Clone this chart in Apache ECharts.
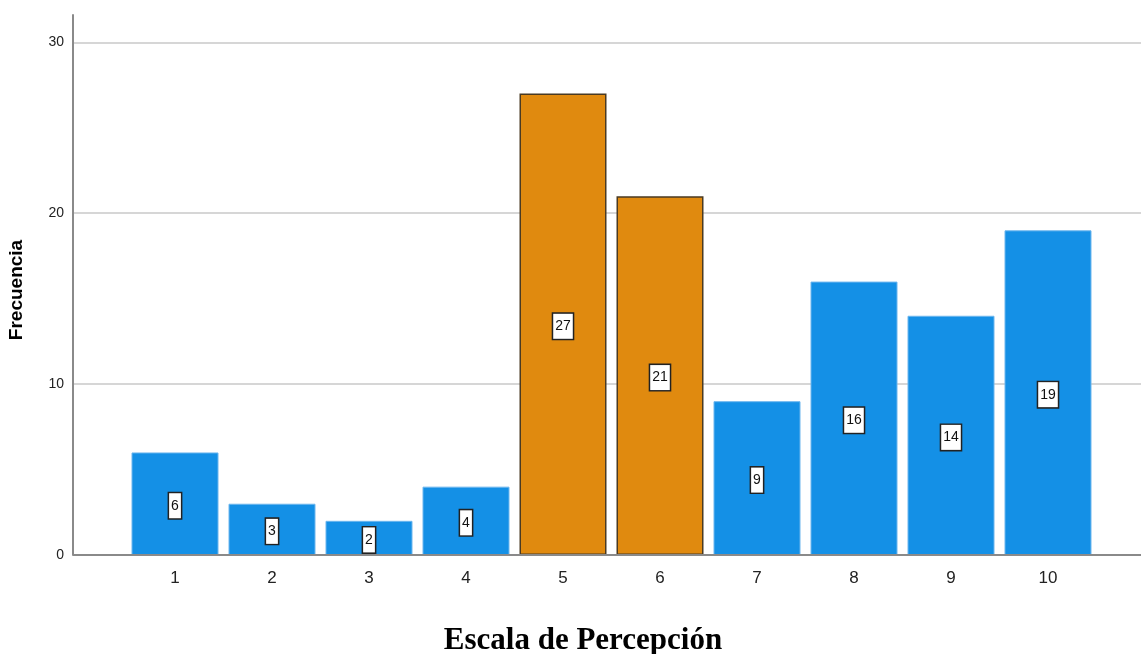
<!DOCTYPE html>
<html><head><meta charset="utf-8">
<script src="https://cdn.jsdelivr.net/npm/echarts@6/dist/echarts.min.js"></script>
<style>html,body{margin:0;padding:0;background:#fff}#c{width:1141px;height:654px}</style>
</head><body><div id="c"></div>
<script>
const categories = ['1','2','3','4','5','6','7','8','9','10'];
const frequencies = [6, 3, 2, 4, 27, 21, 9, 16, 14, 19];
const highlighted = ['5','6'];
const yTicks = [0, 10, 20, 30];

const blue = '#1490e6', orange = '#e08a0f';
const chart = echarts.init(document.getElementById('c'), null, {renderer:'canvas'});
const yMax = 31.6;
chart.setOption({
  animation:false,
  backgroundColor:'#fff',
  grid:[
    {left:73, right:0, top:15, bottom:99},
    {left:126.5, right:44.5, top:15, bottom:99}
  ],
  xAxis:[
    {gridIndex:0, type:'value', min:0, max:1, show:false},
    {gridIndex:1, type:'category', data:categories,
     axisLine:{show:false}, axisTick:{show:false},
     axisLabel:{fontSize:17, color:'#222', fontFamily:'Arial', margin:15}}
  ],
  yAxis:[
    {gridIndex:0, type:'value', min:0, max:yMax, interval:10,
     axisLine:{show:true, lineStyle:{color:'#8a8a8a', width:2}},
     axisTick:{show:false},
     axisLabel:{fontSize:14, color:'#222', fontFamily:'Arial', margin:9,
       showMaxLabel:false,
       formatter:v=>yTicks.includes(v)?String(v):''},
     splitLine:{show:true, showMaxLine:false, lineStyle:{color:'#d6d6d6', width:2}}},
    {gridIndex:1, type:'value', min:0, max:yMax, show:false}
  ],
  series:[
    {type:'line', xAxisIndex:0, yAxisIndex:0, data:[], silent:true,
     markLine:{silent:true, symbol:'none', label:{show:false},
       lineStyle:{color:'#8a8a8a', width:2, type:'solid'},
       data:[{yAxis:0}]}},
    {type:'bar', xAxisIndex:1, yAxisIndex:1, barWidth:87,
     data:frequencies.map((v,i)=>{
       const hi = highlighted.includes(categories[i]);
       return {value:v, itemStyle: hi
         ? {color:orange, borderColor:'#4a3a22', borderWidth:1.5}
         : {color:blue, borderColor:'#6db6ee', borderWidth:1}};
     }),
     label:{show:true, position:'inside', offset:[0,2], fontSize:14, fontFamily:'Arial', color:'#111',
       backgroundColor:'#fff', borderColor:'#222', borderWidth:1.5,
       padding:[6,2,5,2]}}
  ],
  graphic:[
    {type:'text', x:583, y:641,
     style:{text:'Escala de Percepción', font:'bold 31px "Liberation Serif", "Times New Roman", serif', fill:'#000',
       align:'center', verticalAlign:'middle'}},
    {type:'text', x:17, y:290, rotation:Math.PI/2,
     style:{text:'Frecuencia', font:'bold 19px "Liberation Sans", Arial, sans-serif', fill:'#000',
       align:'center', verticalAlign:'middle'}}
  ]
});
</script></body></html>
